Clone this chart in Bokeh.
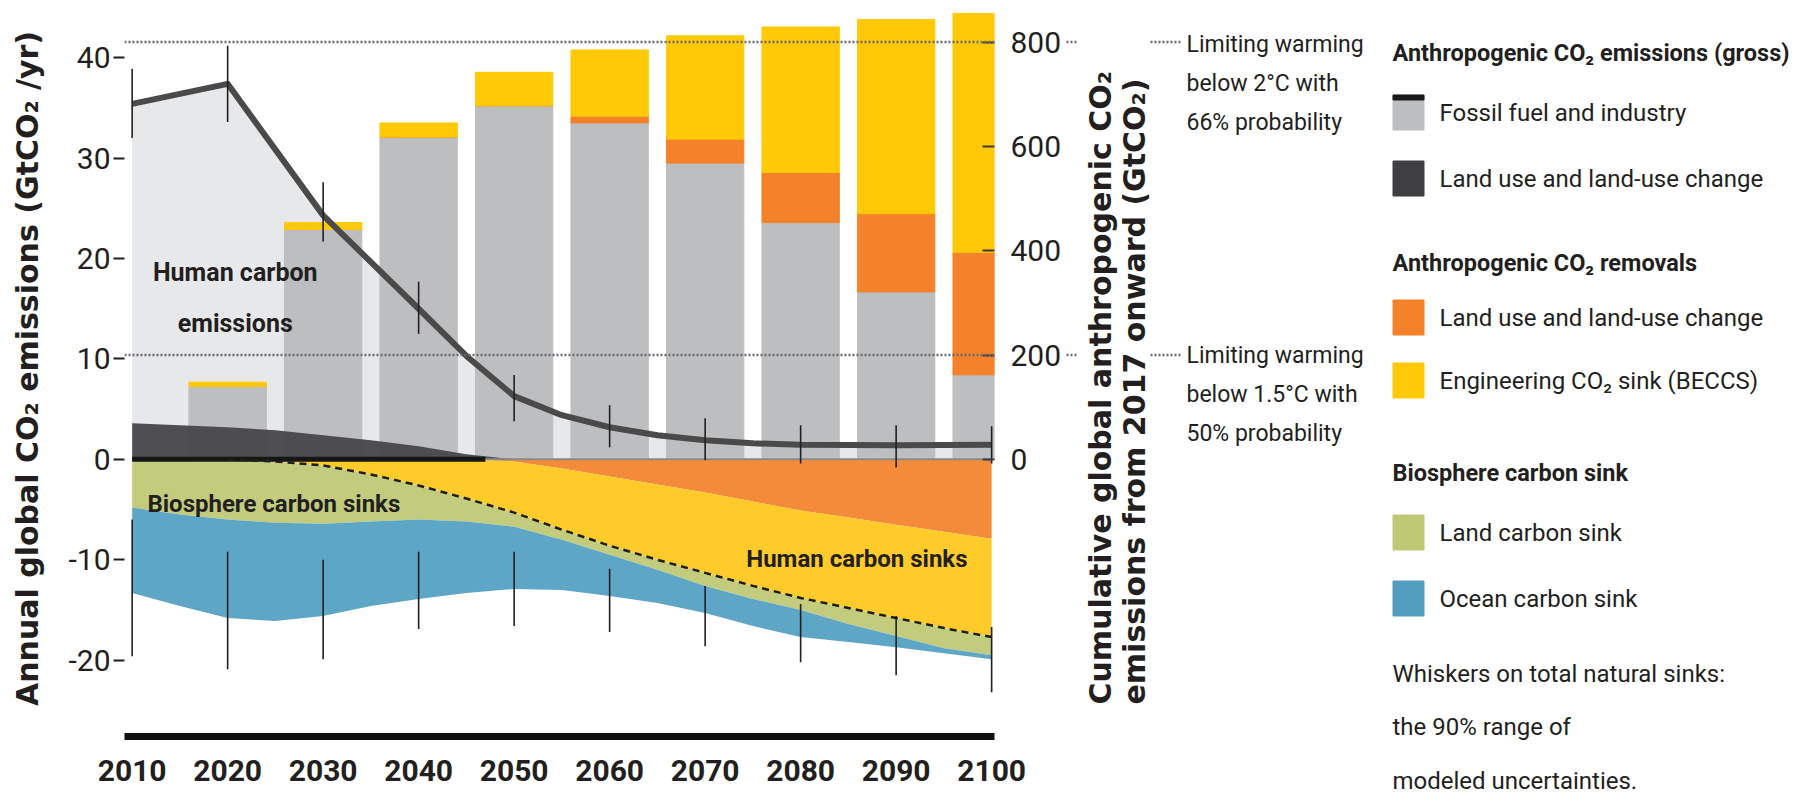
import numpy as np
from bokeh.plotting import figure
from bokeh.models import Range1d, LinearAxis, FixedTicker, Span
from bokeh.layouts import row
from bokeh.core.properties import value
from bokeh.embed import file_html
from bokeh.resources import INLINE

# ------------------------------------------------------------------ data
decades = [2010, 2020, 2030, 2040, 2050, 2060, 2070, 2080, 2090, 2100]

# gross anthropogenic emissions line (GtCO2/yr)
line_years = [2010, 2020, 2030, 2040, 2045, 2050, 2055, 2060, 2065, 2070, 2075, 2080, 2090, 2100]
gross_emissions = [35.4, 37.4, 24.3, 15.0, 10.3, 6.3, 4.4, 3.2, 2.4, 1.9, 1.6, 1.45, 1.4, 1.45]

# whiskers on emissions (GtCO2/yr)
emis_whisker_low = [32.0, 33.6, 21.7, 12.5, 3.8, 1.2, -0.1, -0.4, -0.8, -0.4]
emis_whisker_high = [38.9, 41.2, 27.6, 17.7, 8.4, 5.4, 4.1, 3.4, 3.4, 3.3]

# whiskers on total natural sinks (GtCO2/yr)
sink_whisker_high = [-6.0, -9.2, -10.0, -9.2, -9.2, -10.9, -12.6, -14.4, -15.6, -16.7]
sink_whisker_low = [-19.6, -20.9, -19.9, -16.9, -16.6, -17.2, -18.6, -20.2, -21.5, -23.2]

# land-use-change emissions (GtCO2/yr)
luc_years = [2010, 2015, 2020, 2025, 2030, 2035, 2040, 2045, 2050]
luc_emissions = [3.6, 3.4, 3.2, 2.9, 2.4, 1.9, 1.3, 0.5, 0.0]

# sinks (GtCO2/yr, magnitudes), 5-year steps
sink_years = [2010, 2015, 2020, 2025, 2030, 2035, 2040, 2045, 2050, 2055,
              2060, 2065, 2070, 2075, 2080, 2085, 2090, 2095, 2100]
luc_removal = [0, 0, 0, 0, 0, 0, 0, 0, 0.2, 0.9, 1.7, 2.5, 3.3, 4.2, 5.1, 5.8, 6.5, 7.2, 7.9]
beccs_sink = [0, 0, 0, 0.2, 0.6, 1.5, 2.6, 3.9, 5.1, 6.1, 6.9, 7.5, 8.0, 8.4, 8.7, 9.0, 9.3, 9.6, 9.8]
land_sink = [4.8, 5.5, 6.0, 6.1, 5.8, 4.7, 3.4, 2.3, 1.4, 1.0, 0.9, 1.0, 1.3, 1.3, 1.2, 1.6, 1.8, 2.0, 1.8]
ocean_sink = [8.5, 9.1, 9.8, 9.8, 9.2, 8.4, 7.9, 7.1, 6.2, 5.0, 4.1, 3.3, 2.7, 2.7, 2.7, 1.8, 1.1, 0.5, 0.4]

# cumulative bars (GtCO2, from 2017 onward)
bar_years = [2020, 2030, 2040, 2050, 2060, 2070, 2080, 2090, 2100]
cum_fossil = [140, 441, 618, 678, 645, 568, 454, 321, 162]
cum_luc_removal = [0, 0, 0, 0, 13, 46, 96, 150, 235]
cum_beccs = [8, 13, 27, 64, 127, 198, 279, 372, 458]

budget_levels = [800, 200]
budget_notes = [["Limiting warming", "below 2°C with", "66% probability"],
                ["Limiting warming", "below 1.5°C with", "50% probability"]]

left_ticks = [-20, -10, 0, 10, 20, 30, 40]
left_tick_text = {-20: "-20", -10: "-10"}
right_ticks = [0, 200, 400, 600, 800]

legend_sections = [
    ("Anthropogenic CO₂ emissions (gross)",
     [("Fossil fuel and industry", "#bdbec0"), ("Land use and land-use change", "#3f3f41")]),
    ("Anthropogenic CO₂ removals",
     [("Land use and land-use change", "#f4822a"), ("Engineering CO₂ sink (BECCS)", "#ffc90a")]),
    ("Biosphere carbon sink",
     [("Land carbon sink", "#bfc874"), ("Ocean carbon sink", "#519dbe")]),
]
note_lines = ["Whiskers on total natural sinks:", "the 90% range of", "modeled uncertainties."]

# ------------------------------------------------------------------ style
NARROW = "Roboto"
WIDE = "DejaVu Sans"
TXT = "#231f20"

C_LIGHT = "#e7e8ea"
C_BAR = "#bdbec0"
C_DARK = "#47474a"
C_ORANGE_BAR = "#f4822a"
C_YELLOW_BAR = "#ffc907"
C_ORANGE = "#f38b3a"
C_YELLOW = "#fecb2a"
C_GREEN = "#c2cc7c"
C_BLUE = "#5ea6c6"
C_DOTS = "#6a6b6e"

Y0, Y1 = -27.6, 45.7          # left axis range
K = 19.25                      # cumulative (right) units per annual unit
X0, X1 = 2009.2, 2100.3
W1, H = 1064, 797
FRAME_H = 736

# ------------------------------------------------------------------ main figure
p = figure(width=W1, height=H, x_range=Range1d(X0, X1), y_range=Range1d(Y0, Y1),
           output_backend="svg", toolbar_location=None,
           min_border_left=124, min_border_right=62, min_border_top=0, min_border_bottom=H - FRAME_H,
           outline_line_color=None)
p.extra_y_ranges = {"cum": Range1d(Y0 * K, Y1 * K)}
p.grid.visible = False

xa = p.xaxis[0]
xa.ticker = FixedTicker(ticks=decades)
xa.axis_line_width = 7
xa.axis_line_color = "#111111"
xa.major_tick_line_color = None
xa.minor_tick_line_color = None
xa.major_label_text_font = NARROW
xa.major_label_text_font_style = "bold"
xa.major_label_text_font_size = "30px"
xa.major_label_text_color = TXT
xa.major_label_standoff = 17

ya = p.yaxis[0]
ya.ticker = FixedTicker(ticks=left_ticks)
ya.major_label_overrides = left_tick_text
ya.axis_line_color = None
ya.major_tick_out = 11
ya.major_tick_in = 0
ya.major_tick_line_width = 2
ya.major_tick_line_color = TXT
ya.minor_tick_line_color = None
ya.major_label_standoff = 3
ya.major_label_text_font = NARROW
ya.major_label_text_font_size = "30px"
ya.major_label_text_color = TXT
ya.axis_label = "Annual global CO₂ emissions (GtCO₂ /yr)"
ya.axis_label_text_font = WIDE
ya.axis_label_text_font_style = "bold"
ya.axis_label_text_font_size = "30px"
ya.axis_label_text_color = TXT
ya.axis_label_standoff = 20

ra = LinearAxis(y_range_name="cum", ticker=FixedTicker(ticks=right_ticks))
ra.axis_line_color = None
ra.major_tick_in = 12
ra.major_tick_out = 0
ra.major_tick_line_width = 2
ra.major_tick_line_color = "#3a3a3a"
ra.minor_tick_line_color = None
ra.major_label_standoff = 16
ra.major_label_text_font = NARROW
ra.major_label_text_font_size = "30px"
ra.major_label_text_color = TXT
p.add_layout(ra, "right")

# human emissions area (under the gross emissions line)
p.varea(x=line_years, y1=[0] * len(line_years), y2=gross_emissions, color=C_LIGHT)

# cumulative bars
fossil = np.array(cum_fossil, dtype=float)
lucr = np.array(cum_luc_removal, dtype=float)
beccs = np.array(cum_beccs, dtype=float)
bw = 8.1
p.vbar(x=bar_years, width=bw, bottom=0, top=fossil, y_range_name="cum", color=C_BAR)
p.vbar(x=bar_years, width=bw, bottom=fossil, top=fossil + lucr, y_range_name="cum", color=C_ORANGE_BAR)
p.vbar(x=bar_years, width=bw, bottom=fossil + lucr, top=fossil + lucr + beccs, y_range_name="cum",
       color=C_YELLOW_BAR)

# land-use-change emissions
p.varea(x=luc_years, y1=[0] * len(luc_years), y2=luc_emissions, color=C_DARK, alpha=0.95)

# sinks stacked downward
o = np.array(luc_removal)
yb = np.array(beccs_sink)
g = np.array(land_sink)
b = np.array(ocean_sink)
b1 = -o
b2 = b1 - yb
b3 = b2 - g
b4 = b3 - b
p.varea(x=sink_years, y1=np.zeros_like(o), y2=b1, color=C_ORANGE)
p.varea(x=sink_years, y1=b1, y2=b2, color=C_YELLOW)
p.varea(x=sink_years, y1=b2, y2=b3, color=C_GREEN)
p.varea(x=sink_years, y1=b3, y2=b4, color=C_BLUE)

# zero lines
p.segment(x0=[decades[0]], y0=[0], x1=[luc_years[-1] - 3], y1=[0], line_color="#161616", line_width=5)
p.segment(x0=[luc_years[-1] - 3], y0=[0], x1=[decades[-1]], y1=[0], line_color="#8a8a8c", line_width=2)

# boundary between human and natural sinks
p.line(x=sink_years[2:], y=b2[2:], line_color="#1e1e1e", line_width=2.5, line_dash="7 5")

# gross emissions line
p.line(x=line_years, y=gross_emissions, line_color="#4a4a4b", line_width=6, line_join="round")

# whiskers
p.segment(x0=decades, y0=emis_whisker_low, x1=decades, y1=emis_whisker_high, line_color=TXT, line_width=1.6)
p.segment(x0=decades, y0=sink_whisker_low, x1=decades, y1=sink_whisker_high, line_color=TXT, line_width=1.6)

# carbon budget levels
for lev in budget_levels:
    p.add_layout(Span(location=lev, dimension="width", y_range_name="cum",
                      line_color=C_DOTS, line_width=2.5, line_dash="2 2"))

# in-plot labels
lab = dict(text_font=value(NARROW), text_font_style="bold", text_color=TXT, text_baseline="middle")
p.text(x=[2020.8, 2020.8], y=[18.6, 13.5], text=["Human carbon", "emissions"],
       text_align="center", text_font_size="25px", **lab)
p.text(x=[2011.6], y=[-4.4], text=["Biosphere carbon sinks"], text_align="left", text_font_size="24px", **lab)
p.text(x=[2074.3], y=[-9.9], text=["Human carbon sinks"], text_align="left", text_font_size="24px", **lab)

# ------------------------------------------------------------------ side figure (annotations, legend)
W2 = 1804 - W1
ppu = FRAME_H / ((Y1 - Y0) * K)
q = figure(width=W2, height=H, x_range=Range1d(W1, 1804), y_range=Range1d(H, 0),
           output_backend="svg", toolbar_location=None, min_border=0,
           x_axis_location=None, y_axis_location=None, outline_line_color=None)
q.grid.visible = False
q.extra_y_ranges = {"cum": Range1d(Y1 * K - H / ppu, Y1 * K)}
for fig in (p, q):
    if hasattr(fig, "frame_align"):
        fig.frame_align = False

# right-axis title (two rotated lines)
q.text(x=[1100, 1134], y=[704, 704],
       text=["Cumulative global anthropogenic CO₂", "emissions from 2017 onward (GtCO₂)"],
       angle=np.pi / 2, text_align="left", text_baseline="middle",
       text_font=value(WIDE), text_font_style="bold", text_font_size="30px", text_color=TXT)

# leader dots and notes for the budget levels
for lev, note, top in zip(budget_levels, budget_notes, [44, 355]):
    q.segment(x0=[1066, 1150], y0=[lev, lev], x1=[1078, 1181], y1=[lev, lev], y_range_name="cum",
              line_color=C_DOTS, line_width=2.5, line_dash="2 2")
    q.text(x=[1186] * 3, y=[top, top + 39, top + 78], text=note, text_align="left", text_baseline="middle",
           text_font=value(NARROW), text_font_size="23px", text_color=TXT)

# legend
LX = 1392
header_y = [52, 262, 472]
item_y = [[112, 178], [317, 380], [532, 598]]
for (head, items), hy, iys in zip(legend_sections, header_y, item_y):
    q.text(x=[LX], y=[hy], text=[head], text_align="left", text_baseline="middle",
           text_font=value(NARROW), text_font_style="bold", text_font_size="23.5px", text_color=TXT)
    for (name, col), iy in zip(items, iys):
        q.rect(x=[LX + 16], y=[iy], width=31, height=35, color=col)
        q.text(x=[LX + 47], y=[iy], text=[name], text_align="left", text_baseline="middle",
               text_font=value(NARROW), text_font_size="24px", text_color=TXT)
# black top edge on the fossil swatch (gross emissions line)
q.rect(x=[LX + 16], y=[item_y[0][0] - 15], width=31, height=5, color="#1a1a1a")

q.text(x=[LX] * 3, y=[673, 726, 780], text=note_lines, text_align="left", text_baseline="middle",
       text_font=value(NARROW), text_font_size="24px", text_color=TXT)

layout = row(p, q)
open("out.html", "w").write(file_html(layout, INLINE))
